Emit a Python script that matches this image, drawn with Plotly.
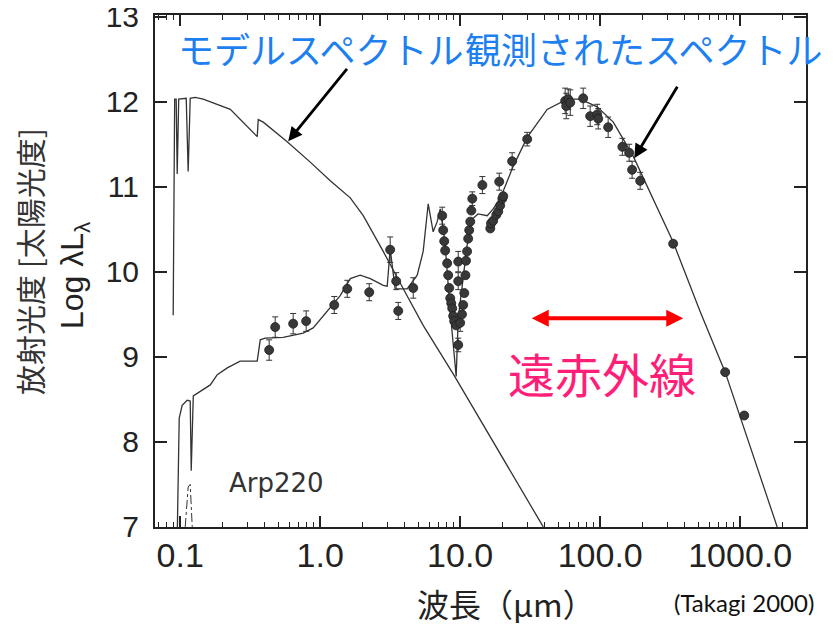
import plotly.graph_objects as go

# ---------------- data ----------------
# stellar (model) spectrum: wavelength [um], log(lambda L_lambda) [L_sun]
stellar_wl = [0.0891, 0.0913, 0.0936, 0.0952, 0.0976, 0.1104, 0.1140, 0.1179, 0.128, 0.146,
              0.228, 0.355, 0.361, 0.392, 0.581, 0.849, 1.18, 1.64, 2.03, 2.82, 3.92, 5.44, 8.91, 39.2]
stellar_L = [9.49, 12.03, 12.03, 11.15, 12.03, 12.04, 11.18, 12.04, 12.05, 12.03,
             11.91, 11.59, 11.79, 11.76, 11.53, 11.29, 11.07, 10.87, 10.66, 10.24, 9.80, 9.37, 8.80, 7.00]

# total (dust-reprocessed) model SED
total_wl = [0.0952, 0.0984, 0.1033, 0.1122, 0.1179, 0.1199, 0.124, 0.146, 0.164, 0.184, 0.217, 0.268,
            0.355, 0.373, 0.405, 0.544, 0.756, 0.891, 1.122, 1.39, 1.64, 1.93, 2.28, 2.82, 3.01, 3.16,
            3.43, 4.18, 4.93, 5.44, 5.91, 6.41, 6.85, 7.2, 7.56, 7.81, 8.49, 9.36, 9.68, 10.5, 11.2,
            12.2, 13.4, 15.6, 17.2, 19.3, 21.0, 23.9, 30.1, 41.8, 58.1, 72.0, 95.2, 124, 172, 239,
            332, 518, 781, 1837]
total_L = [6.88, 8.28, 8.43, 8.49, 8.48, 7.66, 8.54, 8.61, 8.67, 8.79, 8.87, 8.95,
           8.95, 9.20, 9.22, 9.23, 9.28, 9.34, 9.53, 9.72, 9.92, 9.96, 9.92, 9.84, 9.83, 10.27,
           9.80, 9.80, 9.96, 10.24, 10.80, 10.47, 10.59, 10.74, 10.51, 10.31, 9.53, 8.77, 9.45, 9.92, 10.31,
           10.62, 10.68, 10.66, 10.74, 10.86, 11.01, 11.24, 11.58, 11.91, 12.03, 12.03, 11.94, 11.76, 11.36, 10.86,
           10.35, 9.53, 8.82, 7.00]

# short dash-dot piece in the far UV
dash_wl = [0.1086, 0.114, 0.1179, 0.1219]
dash_L = [7.00, 7.47, 7.50, 7.00]

# observed photometry / spectrum
obs_wl = [0.432, 0.477, 0.641, 0.794, 1.26, 1.56, 2.24, 3.16, 3.49, 3.61, 4.62,
          7.44, 7.56, 7.69, 7.81, 8.07, 8.21, 8.35, 8.49, 8.63, 8.77, 8.91, 9.06, 9.36, 9.68, 9.68, 9.68,
          10.0, 10.3, 10.5, 10.7, 10.9, 11.0, 11.2, 11.4, 11.6, 11.8, 12.0, 12.2,
          14.4, 16.4, 16.6, 17.2, 18.1, 18.7, 19.3, 20.0, 20.3, 19.0, 23.5, 30.1,
          56.2, 57.2, 59.1, 61.1, 75.6, 84.8, 95.2, 96.8, 114, 144, 161, 169, 193,
          332, 781, 1069]
obs_L = [9.08, 9.35, 9.39, 9.42, 9.61, 9.80, 9.76, 10.26, 9.89, 9.54, 9.81,
         10.66, 10.49, 10.36, 10.25, 10.10, 9.96, 9.81, 9.69, 9.63, 9.57, 9.48, 9.42, 9.37, 9.14, 10.12, 9.89,
         9.40, 9.50, 9.61, 9.75, 9.96, 10.13, 10.24, 10.39, 10.49, 10.59, 10.72, 10.86,
         11.02, 10.51, 10.57, 10.60, 10.67, 10.71, 10.78, 10.86, 10.89, 11.06, 11.30, 11.56,
         12.01, 11.95, 12.03, 11.99, 12.04, 11.83, 11.85, 11.80, 11.70, 11.47, 11.40, 11.20, 11.07,
         10.33, 8.82, 8.31]
obs_err = [0.12, 0.12, 0.12, 0.12, 0.10, 0.10, 0.10, 0.15, 0.10, 0.10, 0.12,
           0.10, 0, 0, 0, 0, 0, 0, 0, 0, 0, 0, 0, 0, 0.08, 0.12, 0.10,
           0.10, 0, 0, 0, 0, 0, 0, 0, 0, 0, 0, 0.08,
           0.10, 0, 0, 0, 0, 0, 0, 0, 0, 0.10, 0.10, 0.08,
           0.15, 0.15, 0.12, 0.15, 0.12, 0.12, 0.12, 0.12, 0.12, 0.10, 0.10, 0.10, 0.10,
           0, 0, 0]

x_label_alias = {"0.1": "0.1", "1": "1.0", "10": "10.0", "100": "100.0", "1000": "1000.0"}
y_tick_vals = [7, 8, 9, 10, 11, 12, 13]

# ---------------- figure ----------------
LINE = "#333333"
fig = go.Figure()
fig.add_trace(go.Scatter(x=stellar_wl, y=stellar_L, mode="lines",
                         line=dict(color=LINE, width=1.3), hoverinfo="skip"))
fig.add_trace(go.Scatter(x=total_wl, y=total_L, mode="lines",
                         line=dict(color=LINE, width=1.3), hoverinfo="skip"))
fig.add_trace(go.Scatter(x=dash_wl, y=dash_L, mode="lines",
                         line=dict(color=LINE, width=1, dash="dashdot"), hoverinfo="skip"))
fig.add_trace(go.Scatter(x=obs_wl, y=obs_L, mode="markers",
                         marker=dict(size=9, color="#383838", line=dict(color="#1e1e1e", width=0.8)),
                         error_y=dict(type="data", array=obs_err, color="#333", thickness=1, width=3)))

AX = "#222222"
# page body adds an 8px offset, so the figure is 8px smaller and margins shifted
fig.update_layout(
    width=828, height=619,
    margin=dict(l=147, r=30, t=7, b=100),
    paper_bgcolor="white", plot_bgcolor="white",
    showlegend=False,
    xaxis=dict(type="log", range=[-1.18, 3.47], automargin=False,
               tickmode="linear", tick0=0, dtick=1, exponentformat="none",
               labelalias=x_label_alias,
               ticks="inside", ticklen=11, tickwidth=1.5, tickcolor=AX,
               showline=True, linewidth=2, linecolor=AX, mirror="allticks",
               showgrid=False, zeroline=False,
               ticklabelstandoff=-3, ticklabeloverflow="allow",
               tickfont=dict(family="Liberation Sans, Arial, sans-serif", size=34, color=AX),
               minor=dict(dtick="D1", ticks="inside",
                          ticklen=5, tickwidth=1.2, tickcolor=AX, showgrid=False)),
    yaxis=dict(range=[6.999, 13.02], automargin=False,
               tickmode="array", tickvals=y_tick_vals,
               ticks="inside", ticklen=12, tickwidth=1.5, tickcolor=AX,
               showline=True, linewidth=2, linecolor=AX, mirror="allticks",
               showgrid=False, zeroline=False,
               ticklabelstandoff=8, ticklabeloverflow="allow",
               tickfont=dict(family="Liberation Sans, Arial, sans-serif", size=30, color=AX)),
)

JP = "Noto Sans CJK JP"
ann = []
# y-axis titles
ann.append(dict(text="放射光度 [太陽光度]", xref="paper", yref="paper", x=-0.1935, y=0.5176,
                textangle=-90, showarrow=False, xanchor="center", yanchor="middle",
                font=dict(family=JP, size=30, color="#333")))
ann.append(dict(text="Log λL<sub>λ</sub>", xref="paper", yref="paper", x=-0.1229, y=0.4922,
                textangle=-90, showarrow=False, xanchor="center", yanchor="middle",
                font=dict(family="Liberation Sans, Arial, sans-serif", size=32, color="#222")))
# x-axis title
ann.append(dict(text="波長（μm）", xref="paper", yref="paper", x=0.539, y=-0.1484,
                showarrow=False, xanchor="center", yanchor="middle",
                font=dict(family=JP, size=32, color="#222")))
ann.append(dict(text="(Takagi 2000)", xref="paper", yref="paper", x=0.794, y=-0.1465,
                showarrow=False, xanchor="left", yanchor="middle",
                font=dict(family="Lato, sans-serif", size=24, color="#111")))
# blue labels
ann.append(dict(text="モデルスペクトル", xref="paper", yref="paper", x=0.0323, y=0.9355,
                showarrow=False, xanchor="left", yanchor="middle",
                font=dict(family=JP, size=36, color="#1E7FF0")))
ann.append(dict(text="観測されたスペクトル", xref="paper", yref="paper", x=0.4731, y=0.9355,
                showarrow=False, xanchor="left", yanchor="middle",
                font=dict(family=JP, size=36, color="#1E7FF0")))
# far-infrared label
ann.append(dict(text="遠赤外線", xref="paper", yref="paper", x=0.6859, y=0.3027,
                showarrow=False, xanchor="center", yanchor="middle",
                font=dict(family=JP, size=47, color="#FF1F78")))
# Arp220
ann.append(dict(text="Arp220", xref="paper", yref="paper", x=0.1106, y=0.0859,
                showarrow=False, xanchor="left", yanchor="middle",
                font=dict(family="DejaVu Sans, sans-serif", size=26, color="#333")))
# black arrows
ann.append(dict(text="", xref="x", yref="y", x=-0.2286, y=11.535, ax=60, ay=-74,
                showarrow=True, arrowhead=2, arrowsize=1, arrowwidth=2.8, arrowcolor="#000"))
ann.append(dict(text="", xref="x", yref="y", x=2.243, y=11.336, ax=44, ay=-73,
                showarrow=True, arrowhead=2, arrowsize=1, arrowwidth=2.8, arrowcolor="#000"))
# red double arrow
ann.append(dict(text="", xref="x", yref="y", x=2.593, y=9.453, ax=-153, ay=0,
                showarrow=True, arrowhead=2, startarrowhead=2, arrowside="end+start",
                arrowsize=0.85, startarrowsize=0.85, arrowwidth=4, arrowcolor="#FF0000"))
fig.update_layout(annotations=ann)

fig.write_html("out.html")
